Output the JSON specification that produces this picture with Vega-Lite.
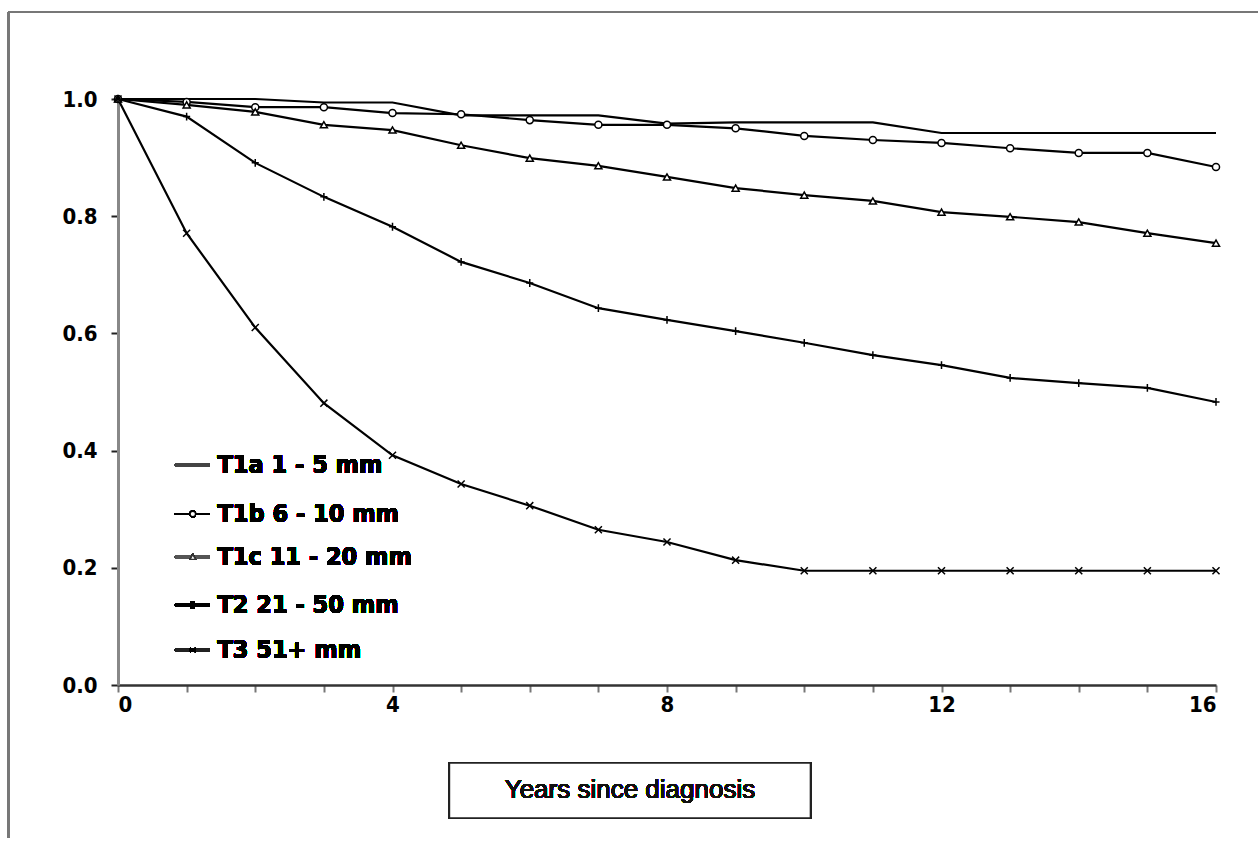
{
  "$schema": "https://vega.github.io/schema/vega-lite/v6.json",
  "autosize": "none",
  "width": 1098,
  "height": 586,
  "padding": {"left": 118, "top": 99, "right": 42, "bottom": 156},
  "background": "white",
  "config": {"view": {"stroke": null}},
  "data": {"values": [
    {"s": "T1a 1 - 5 mm", "t": 0, "v": 1.0}, {"s": "T1a 1 - 5 mm", "t": 1, "v": 1.0}, {"s": "T1a 1 - 5 mm", "t": 2, "v": 1.0}, {"s": "T1a 1 - 5 mm", "t": 3, "v": 0.994}, {"s": "T1a 1 - 5 mm", "t": 4, "v": 0.994}, {"s": "T1a 1 - 5 mm", "t": 5, "v": 0.972}, {"s": "T1a 1 - 5 mm", "t": 6, "v": 0.972}, {"s": "T1a 1 - 5 mm", "t": 7, "v": 0.972}, {"s": "T1a 1 - 5 mm", "t": 8, "v": 0.958}, {"s": "T1a 1 - 5 mm", "t": 9, "v": 0.96}, {"s": "T1a 1 - 5 mm", "t": 10, "v": 0.96}, {"s": "T1a 1 - 5 mm", "t": 11, "v": 0.96}, {"s": "T1a 1 - 5 mm", "t": 12, "v": 0.942}, {"s": "T1a 1 - 5 mm", "t": 13, "v": 0.942}, {"s": "T1a 1 - 5 mm", "t": 14, "v": 0.942}, {"s": "T1a 1 - 5 mm", "t": 15, "v": 0.942}, {"s": "T1a 1 - 5 mm", "t": 16, "v": 0.942},
    {"s": "T1b 6 - 10 mm", "t": 0, "v": 1.0}, {"s": "T1b 6 - 10 mm", "t": 1, "v": 0.995}, {"s": "T1b 6 - 10 mm", "t": 2, "v": 0.986}, {"s": "T1b 6 - 10 mm", "t": 3, "v": 0.986}, {"s": "T1b 6 - 10 mm", "t": 4, "v": 0.976}, {"s": "T1b 6 - 10 mm", "t": 5, "v": 0.974}, {"s": "T1b 6 - 10 mm", "t": 6, "v": 0.964}, {"s": "T1b 6 - 10 mm", "t": 7, "v": 0.956}, {"s": "T1b 6 - 10 mm", "t": 8, "v": 0.956}, {"s": "T1b 6 - 10 mm", "t": 9, "v": 0.95}, {"s": "T1b 6 - 10 mm", "t": 10, "v": 0.937}, {"s": "T1b 6 - 10 mm", "t": 11, "v": 0.93}, {"s": "T1b 6 - 10 mm", "t": 12, "v": 0.925}, {"s": "T1b 6 - 10 mm", "t": 13, "v": 0.916}, {"s": "T1b 6 - 10 mm", "t": 14, "v": 0.908}, {"s": "T1b 6 - 10 mm", "t": 15, "v": 0.908}, {"s": "T1b 6 - 10 mm", "t": 16, "v": 0.884},
    {"s": "T1c 11 - 20 mm", "t": 0, "v": 1.0}, {"s": "T1c 11 - 20 mm", "t": 1, "v": 0.99}, {"s": "T1c 11 - 20 mm", "t": 2, "v": 0.978}, {"s": "T1c 11 - 20 mm", "t": 3, "v": 0.956}, {"s": "T1c 11 - 20 mm", "t": 4, "v": 0.947}, {"s": "T1c 11 - 20 mm", "t": 5, "v": 0.921}, {"s": "T1c 11 - 20 mm", "t": 6, "v": 0.899}, {"s": "T1c 11 - 20 mm", "t": 7, "v": 0.886}, {"s": "T1c 11 - 20 mm", "t": 8, "v": 0.867}, {"s": "T1c 11 - 20 mm", "t": 9, "v": 0.848}, {"s": "T1c 11 - 20 mm", "t": 10, "v": 0.836}, {"s": "T1c 11 - 20 mm", "t": 11, "v": 0.826}, {"s": "T1c 11 - 20 mm", "t": 12, "v": 0.807}, {"s": "T1c 11 - 20 mm", "t": 13, "v": 0.799}, {"s": "T1c 11 - 20 mm", "t": 14, "v": 0.79}, {"s": "T1c 11 - 20 mm", "t": 15, "v": 0.771}, {"s": "T1c 11 - 20 mm", "t": 16, "v": 0.754},
    {"s": "T2 21 - 50 mm", "t": 0, "v": 1.0}, {"s": "T2 21 - 50 mm", "t": 1, "v": 0.97}, {"s": "T2 21 - 50 mm", "t": 2, "v": 0.891}, {"s": "T2 21 - 50 mm", "t": 3, "v": 0.833}, {"s": "T2 21 - 50 mm", "t": 4, "v": 0.782}, {"s": "T2 21 - 50 mm", "t": 5, "v": 0.722}, {"s": "T2 21 - 50 mm", "t": 6, "v": 0.686}, {"s": "T2 21 - 50 mm", "t": 7, "v": 0.643}, {"s": "T2 21 - 50 mm", "t": 8, "v": 0.623}, {"s": "T2 21 - 50 mm", "t": 9, "v": 0.604}, {"s": "T2 21 - 50 mm", "t": 10, "v": 0.584}, {"s": "T2 21 - 50 mm", "t": 11, "v": 0.563}, {"s": "T2 21 - 50 mm", "t": 12, "v": 0.546}, {"s": "T2 21 - 50 mm", "t": 13, "v": 0.524}, {"s": "T2 21 - 50 mm", "t": 14, "v": 0.515}, {"s": "T2 21 - 50 mm", "t": 15, "v": 0.507}, {"s": "T2 21 - 50 mm", "t": 16, "v": 0.483},
    {"s": "T3 51+ mm", "t": 0, "v": 1.0}, {"s": "T3 51+ mm", "t": 1, "v": 0.771}, {"s": "T3 51+ mm", "t": 2, "v": 0.61}, {"s": "T3 51+ mm", "t": 3, "v": 0.481}, {"s": "T3 51+ mm", "t": 4, "v": 0.392}, {"s": "T3 51+ mm", "t": 5, "v": 0.343}, {"s": "T3 51+ mm", "t": 6, "v": 0.306}, {"s": "T3 51+ mm", "t": 7, "v": 0.265}, {"s": "T3 51+ mm", "t": 8, "v": 0.244}, {"s": "T3 51+ mm", "t": 9, "v": 0.213}, {"s": "T3 51+ mm", "t": 10, "v": 0.195}, {"s": "T3 51+ mm", "t": 11, "v": 0.195}, {"s": "T3 51+ mm", "t": 12, "v": 0.195}, {"s": "T3 51+ mm", "t": 13, "v": 0.195}, {"s": "T3 51+ mm", "t": 14, "v": 0.195}, {"s": "T3 51+ mm", "t": 15, "v": 0.195}, {"s": "T3 51+ mm", "t": 16, "v": 0.195}
  ]},
  "encoding": {
    "x": {
      "field": "t", "type": "quantitative",
      "scale": {"domain": [0, 16], "nice": false, "zero": false},
      "axis": {
        "title": null, "grid": false,
        "values": [0,1,2,3,4,5,6,7,8,9,10,11,12,13,14,15,16],
        "labelExpr": "datum.value % 4 === 0 ? datum.label : ''",
        "domainColor": "#333", "domainWidth": 2.5,
        "tickColor": "#777", "tickSize": 7, "tickWidth": 2,
        "labelFont": "DejaVu Sans Condensed, Liberation Sans, sans-serif", "labelFontWeight": "bold", "labelFontSize": 22, "labelColor": "black",
        "labelPadding": 2
      }
    },
    "y": {
      "field": "v", "type": "quantitative",
      "scale": {"domain": [0, 1], "nice": false},
      "axis": {
        "title": null, "grid": false,
        "values": [0, 0.2, 0.4, 0.6, 0.8, 1.0],
        "format": ".1f",
        "domainColor": "#888", "domainWidth": 3,
        "tickColor": "#222", "tickSize": 7, "tickWidth": 2,
        "labelFont": "DejaVu Sans Condensed, Liberation Sans, sans-serif", "labelFontWeight": "bold", "labelFontSize": 22, "labelColor": "black",
        "labelPadding": 14
      }
    }
  },
  "layer": [
    {
      "mark": {"type": "line", "color": "black", "strokeWidth": 2.2},
      "encoding": {"detail": {"field": "s"}}
    },
    {
      "mark": {"type": "point", "filled": false, "fill": "white", "fillOpacity": 1, "stroke": "black", "strokeWidth": 1.5, "opacity": 1, "size": 50},
      "encoding": {
        "shape": {
          "field": "s", "type": "nominal",
          "sort": ["T1a 1 - 5 mm", "T1b 6 - 10 mm", "T1c 11 - 20 mm", "T2 21 - 50 mm", "T3 51+ mm"],
          "scale": {"range": ["M0,0", "circle", "triangle-up", "M-1,0H1M0,-1.1V1.1", "M-1,-1L1,1M-1,1L1,-1"]},
          "legend": null
        }
      }
    },
    {
      "mark": {"type": "rule", "color": "#777", "strokeWidth": 2, "clip": false},
      "encoding": {"x": {"datum": -1.6}, "x2": {"datum": 16.62}, "y": {"datum": 1.1485}}
    },
    {
      "mark": {"type": "rule", "color": "#777", "strokeWidth": 2, "clip": false},
      "encoding": {"x": {"datum": -1.6}, "y": {"datum": 1.1485}, "y2": {"datum": -0.26}}
    },
    {
      "mark": {"type": "rule", "color": "#444", "strokeWidth": 2.5},
      "encoding": {"x": {"datum": 0.83}, "x2": {"datum": 1.34}, "y": {"datum": 0.3754}}
    },
    {
      "mark": {"type": "rule", "color": "black", "strokeWidth": 2},
      "encoding": {"x": {"datum": 0.83}, "x2": {"datum": 1.34}, "y": {"datum": 0.2918}}
    },
    {
      "mark": {"type": "rule", "color": "#555", "strokeWidth": 2.5},
      "encoding": {"x": {"datum": 0.83}, "x2": {"datum": 1.34}, "y": {"datum": 0.2184}}
    },
    {
      "mark": {"type": "rule", "color": "black", "strokeWidth": 2.5},
      "encoding": {"x": {"datum": 0.83}, "x2": {"datum": 1.34}, "y": {"datum": 0.1365}}
    },
    {
      "mark": {"type": "rule", "color": "#222", "strokeWidth": 2.5},
      "encoding": {"x": {"datum": 0.83}, "x2": {"datum": 1.34}, "y": {"datum": 0.0597}}
    },
    {
      "mark": {"type": "point", "shape": "circle", "size": 30, "filled": false, "fill": "white", "fillOpacity": 1, "stroke": "black", "strokeWidth": 1.3, "opacity": 1},
      "encoding": {"x": {"datum": 1.09}, "y": {"datum": 0.2918}}
    },
    {
      "mark": {"type": "point", "shape": "triangle-up", "size": 30, "filled": false, "fill": "white", "fillOpacity": 1, "stroke": "#333", "strokeWidth": 1.3, "opacity": 1},
      "encoding": {"x": {"datum": 1.09}, "y": {"datum": 0.2184}}
    },
    {
      "mark": {"type": "point", "shape": "M-1,0H1M-0.4,-1V1M0.4,-1V1", "size": 40, "filled": false, "stroke": "black", "strokeWidth": 1.5, "opacity": 1},
      "encoding": {"x": {"datum": 1.09}, "y": {"datum": 0.1365}}
    },
    {
      "mark": {"type": "point", "shape": "M-1,-0.6L1,0.6M-1,0.6L1,-0.6", "size": 30, "filled": false, "stroke": "black", "strokeWidth": 1.5, "opacity": 1},
      "encoding": {"x": {"datum": 1.09}, "y": {"datum": 0.0597}}
    },
    {
      "mark": {"type": "text", "font": "DejaVu Sans Condensed, Liberation Sans, sans-serif", "fontWeight": "bold", "fontSize": 25, "color": "black", "align": "left", "baseline": "middle"},
      "encoding": {"x": {"datum": 1.45}, "y": {"datum": 0.3754}, "text": {"value": "T1a 1 - 5 mm"}}
    },
    {
      "mark": {"type": "text", "font": "DejaVu Sans Condensed, Liberation Sans, sans-serif", "fontWeight": "bold", "fontSize": 25, "color": "black", "align": "left", "baseline": "middle"},
      "encoding": {"x": {"datum": 1.45}, "y": {"datum": 0.2918}, "text": {"value": "T1b 6 - 10 mm"}}
    },
    {
      "mark": {"type": "text", "font": "DejaVu Sans Condensed, Liberation Sans, sans-serif", "fontWeight": "bold", "fontSize": 25, "color": "black", "align": "left", "baseline": "middle"},
      "encoding": {"x": {"datum": 1.45}, "y": {"datum": 0.2184}, "text": {"value": "T1c 11 - 20 mm"}}
    },
    {
      "mark": {"type": "text", "font": "DejaVu Sans Condensed, Liberation Sans, sans-serif", "fontWeight": "bold", "fontSize": 25, "color": "black", "align": "left", "baseline": "middle"},
      "encoding": {"x": {"datum": 1.45}, "y": {"datum": 0.1365}, "text": {"value": "T2 21 - 50 mm"}}
    },
    {
      "mark": {"type": "text", "font": "DejaVu Sans Condensed, Liberation Sans, sans-serif", "fontWeight": "bold", "fontSize": 25, "color": "black", "align": "left", "baseline": "middle"},
      "encoding": {"x": {"datum": 1.45}, "y": {"datum": 0.0597}, "text": {"value": "T3 51+ mm"}}
    },
    {
      "mark": {"type": "rect", "fill": "white", "stroke": "#222", "strokeWidth": 1.5, "clip": false},
      "encoding": {"x": {"datum": 4.83}, "x2": {"datum": 10.09}, "y": {"datum": -0.133}, "y2": {"datum": -0.227}}
    },
    {
      "mark": {"type": "text", "font": "Liberation Sans", "fontSize": 26, "color": "#111", "align": "center", "baseline": "middle", "clip": false},
      "encoding": {"x": {"datum": 7.46}, "y": {"datum": -0.18}, "text": {"value": "Years since diagnosis"}}
    }
  ]
}
